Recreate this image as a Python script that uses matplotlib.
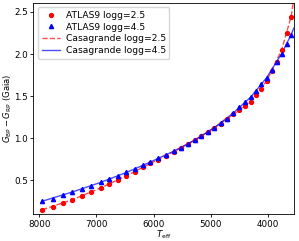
import matplotlib
matplotlib.use("Agg")
import matplotlib.pyplot as plt

# Effective temperatures of model points (K)
teff = [7946, 7759, 7589, 7419, 7250, 7092, 6927, 6781, 6621, 6475,
        6328, 6192, 6056, 5920, 5779, 5649, 5525, 5399, 5280, 5168,
        5054, 4941, 4829, 4715, 4608, 4506, 4409, 4307, 4217, 4126,
        4024, 3939, 3854, 3764, 3679, 3599]

# ATLAS9 colours
atlas_g25 = [0.148, 0.183, 0.226, 0.269, 0.316, 0.363, 0.410, 0.460, 0.507, 0.554,
             0.601, 0.655, 0.700, 0.745, 0.790, 0.838, 0.882, 0.929, 0.976, 1.023,
             1.075, 1.122, 1.172, 1.225, 1.285, 1.340, 1.382, 1.436, 1.514, 1.584,
             1.682, 1.799, 1.905, 2.053, 2.249, 2.444]
atlas_g45 = [0.254, 0.284, 0.324, 0.363, 0.398, 0.433, 0.477, 0.512, 0.550, 0.594,
             0.632, 0.680, 0.718, 0.760, 0.800, 0.845, 0.888, 0.933, 0.980, 1.027,
             1.078, 1.126, 1.176, 1.232, 1.300, 1.370, 1.428, 1.487, 1.565, 1.643,
             1.721, 1.811, 1.905, 2.006, 2.120, 2.229]

# Casagrande relations
casa_teff = [7946, 7419, 6927, 6475, 6056, 5649, 5280, 4941, 4608, 4307,
             4024, 3764, 3599, 3550]
casa_g25 = [0.150, 0.270, 0.410, 0.555, 0.700, 0.840, 0.977, 1.124, 1.283, 1.440,
            1.682, 2.050, 2.444, 2.660]
casa_g45 = [0.252, 0.362, 0.476, 0.594, 0.718, 0.846, 0.980, 1.126, 1.300, 1.487,
            1.721, 2.006, 2.229, 2.310]

plt.rcParams['font.size'] = 6.3
fig = plt.figure(figsize=(2.99, 2.41), dpi=100)
ax = fig.add_axes([0.112, 0.112, 0.871, 0.877])

ax.plot(teff, atlas_g25, 'o', color='red', ms=2.8, label='ATLAS9 logg=2.5', zorder=3)
ax.plot(teff, atlas_g45, '^', color='blue', ms=3, label='ATLAS9 logg=4.5', zorder=3)
ax.plot(casa_teff, casa_g25, '--', color='red', lw=1, alpha=0.7, label='Casagrande logg=2.5')
ax.plot(casa_teff, casa_g45, '-', color='blue', lw=1, alpha=0.7, label='Casagrande logg=4.5')

ax.set_xlim(8100, 3550)
ax.set_ylim(0.10, 2.61)
ax.set_xticks([8000, 7000, 6000, 5000, 4000])
ax.set_yticks([0.5, 1.0, 1.5, 2.0, 2.5])
ax.set_xlabel(r'$T_{\rm eff}$', labelpad=0)
ax.set_ylabel(r'$G_{\rm BP}-G_{\rm RP}$ (Gaia)', fontsize=6.1)
ax.yaxis.set_label_coords(-0.075, 0.5)
ax.tick_params(pad=1.5, length=2.5, width=0.6)
for s in ax.spines.values():
    s.set_linewidth(0.6)
ax.legend(loc='upper left', fontsize=6.6, handlelength=2, borderpad=0.4, labelspacing=0.3,
          handletextpad=0.6)

fig.savefig('out.png', dpi=100)
